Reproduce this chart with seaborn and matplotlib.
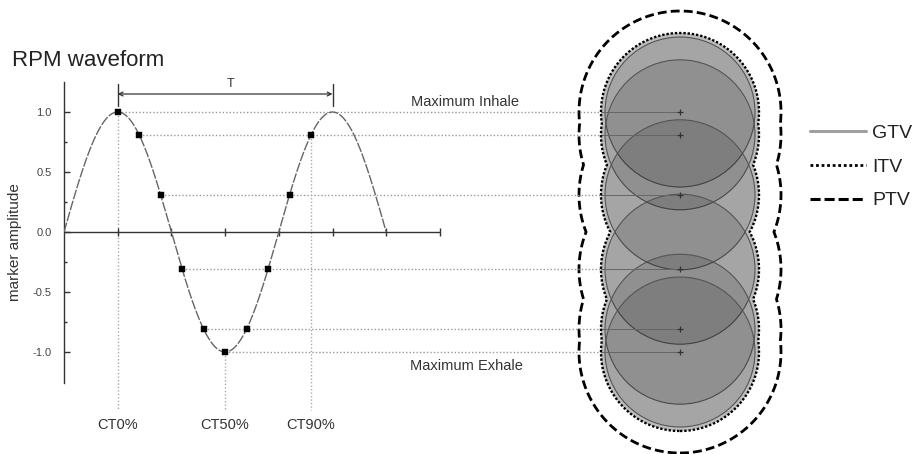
import numpy as np
import matplotlib
matplotlib.use("Agg")
import matplotlib.pyplot as plt
from matplotlib.patches import Ellipse, Polygon
from matplotlib.lines import Line2D
import seaborn as sns

# Sampled respiratory phases on the RPM trace (x in tick units)
phase_x = [1.0, 1.4, 1.8, 2.2, 2.6, 3.0, 3.4, 3.8, 4.2, 4.6]
phase_amp = [1.0, 0.81, 0.31, -0.31, -0.81, -1.0, -0.81, -0.31, 0.31, 0.81]

# Labelled CT phases
ct_labels = ["CT0%", "CT50%", "CT90%"]
ct_x = [1.0, 3.0, 4.6]
ct_amp = [1.0, -1.0, 0.81]

# Distinct tumour positions, one per amplitude level
levels = [1.0, 0.81, 0.31, -0.31, -0.81, -1.0]

# Breathing waveform model
wave_amp = 1.0
wave_period = 4.0
wave_start, wave_end = 0.0, 6.0

y_major = [-1.0, -0.5, 0.0, 0.5, 1.0]
y_major_labels = ["-1.0", "-0.5", "0.0", "0.5", "1.0"]
y_minor = [-0.75, -0.25, 0.25, 0.75]
x_ticks = [1, 2, 3, 4, 5, 6, 7]

volume_names = ["GTV", "ITV", "PTV"]

sns.set_theme(style="white")
plt.rcParams["font.family"] = ["Liberation Sans", "DejaVu Sans"]

# ---- figure / axes geometry (pixels) ----
W, H = 921, 454
AX_LEFT = 64
PX_X = 53.7     # pixels per x unit
PX_Y = 120.0    # pixels per amplitude unit
Y0 = 232        # pixel row of amplitude 0

fig = plt.figure(figsize=(W / 100, H / 100), dpi=100)
ax = fig.add_axes([AX_LEFT / W, 0, (W - AX_LEFT) / W, 1])
ax.set_xlim(0, (W - AX_LEFT) / PX_X)
ax.set_ylim(-(H - Y0) / PX_Y, Y0 / PX_Y)

for s in ["top", "right", "bottom"]:
    ax.spines[s].set_visible(False)
ax.spines["left"].set_bounds(-1.26, 1.25)
ax.spines["left"].set_color("#333333")
ax.spines["left"].set_linewidth(1.0)

ax.set_xticks([])
ax.set_yticks(y_major)
ax.set_yticklabels(y_major_labels)
ax.set_yticks(y_minor, minor=True)
ax.tick_params(axis="y", which="major", direction="in", length=4, width=1,
               color="#333333", labelsize=8, labelcolor="#444444", pad=9, left=True)
ax.tick_params(axis="y", which="minor", direction="in", length=2.5, width=1,
               color="#333333", left=True)
ax.set_ylabel("marker amplitude", fontsize=11, color="#333333")
ax.yaxis.set_label_coords((22 - AX_LEFT) / (W - AX_LEFT), 1 - 242 / H)

# horizontal time axis through zero
ax.plot([0, 7], [0, 0], color="#333333", lw=1.0, zorder=3)
ax.plot(x_ticks, [0] * len(x_ticks), ls="none", marker="|", ms=6, mew=1.0,
        color="#333333", zorder=3)

# ---- waveform ----
xs = np.linspace(wave_start, wave_end, 600)
ys = wave_amp * np.sin(2 * np.pi * xs / wave_period)
sns.lineplot(x=xs, y=ys, ax=ax, color="#666666", lw=1.0,
             linestyle=(0, (7, 1.2)), sort=False, zorder=4)

# ---- circle geometry for GTV / ITV / PTV ----
CX = (680 - AX_LEFT) / PX_X
R_GTV, R_ITV, R_PTV = 75.0, 79.0, 101.0   # pixels


def half_width(y_px, r):
    c = np.array(levels) * PX_Y
    d = r ** 2 - (y_px[:, None] - c[None, :]) ** 2
    return np.sqrt(np.clip(d, 0, None)).max(axis=1)


def envelope(r, n=3000):
    lo = min(levels) * PX_Y - r
    hi = max(levels) * PX_Y + r
    yy = np.linspace(lo, hi, n)
    hw = half_width(yy, r)
    right = np.column_stack([CX + hw / PX_X, yy / PX_Y])
    left = np.column_stack([CX - hw[::-1] / PX_X, yy[::-1] / PX_Y])
    return np.vstack([right, left])


ptv = Polygon(envelope(R_PTV), closed=True, fill=False, edgecolor="black",
              lw=2.0, linestyle=(0, (3.2, 1.5)), zorder=2)
ax.add_patch(ptv)

itv_pts = envelope(R_ITV)
ax.add_patch(Polygon(itv_pts, closed=True, facecolor="#bcbcbc",
                     edgecolor="none", zorder=2))

for lv in levels:
    ax.add_patch(Ellipse((CX, lv), width=2 * R_GTV / PX_X, height=2 * R_GTV / PX_Y,
                         facecolor=(0, 0, 0, 0.12), edgecolor="#555555",
                         lw=0.8, zorder=3))

ax.add_patch(Polygon(itv_pts, closed=True, fill=False, edgecolor="black",
                     lw=1.7, linestyle=(0, (1, 0.8)), zorder=6))

# ---- projection lines from the waveform to the tumour positions ----
for lv in levels:
    x0 = min(px for px, a in zip(phase_x, phase_amp) if a == lv)
    edge = CX - half_width(np.array([lv * PX_Y]), R_ITV)[0] / PX_X
    ax.plot([x0, edge], [lv, lv], color="#999999", lw=1.0,
            linestyle=(0, (1, 1.5)), zorder=2)
    ax.plot([edge, CX], [lv, lv], color="#666666", lw=0.7, zorder=5)
ax.plot([CX] * len(levels), levels, ls="none", marker="+", ms=5, mew=0.9,
        color="#333333", zorder=7)

for lbl, cx_, ca in zip(ct_labels, ct_x, ct_amp):
    ax.plot([cx_, cx_], [ca, -1.48], color="#aaaaaa", lw=1.0,
            linestyle=(0, (1, 1.5)), zorder=2)
    ax.text(cx_, -1.64, lbl, ha="center", va="baseline", fontsize=10.5,
            color="#333333")

sns.scatterplot(x=phase_x, y=phase_amp, ax=ax, marker="s", s=16,
                color="black", edgecolor="black", linewidth=0.3, zorder=8)

# ---- period bracket ----
T_Y = (Y0 - 94) / PX_Y
ax.annotate("", xy=(1.0, T_Y), xytext=(5.0, T_Y),
            arrowprops=dict(arrowstyle="<->", lw=0.9, color="#333333",
                            mutation_scale=7, shrinkA=0, shrinkB=0))
for bx in (1.0, 5.0):
    ax.plot([bx, bx], [(Y0 - 106) / PX_Y, (Y0 - 84) / PX_Y], color="#333333", lw=1.0)
ax.text(3.1, (Y0 - 87) / PX_Y, "T", ha="center", va="baseline", fontsize=9,
        color="#333333")

ax.text(7.47, (Y0 - 106) / PX_Y, "Maximum Inhale", ha="center", va="baseline",
        fontsize=10.5, color="#333333")
ax.text(7.5, (Y0 - 370) / PX_Y, "Maximum Exhale", ha="center", va="baseline",
        fontsize=10.5, color="#333333")

fig.text(12 / W, 1 - 66 / H, "RPM waveform", fontsize=16, va="baseline",
         ha="left", color="#222222")

# ---- legend ----
handles = [
    Line2D([], [], color="#a0a0a0", lw=2.2),
    Line2D([], [], color="black", lw=2.0, linestyle=(0, (1, 1))),
    Line2D([], [], color="black", lw=2.2, linestyle=(0, (3.3, 1.3))),
]
fig.legend(handles, volume_names, loc="upper left",
           bbox_to_anchor=(810 / W, 1 - 124 / H), frameon=False,
           fontsize=14, handlelength=2.9, handletextpad=0.3,
           labelspacing=0.84, borderpad=0, borderaxespad=0,
           labelcolor="#222222")

fig.savefig("out.png", dpi=100)
